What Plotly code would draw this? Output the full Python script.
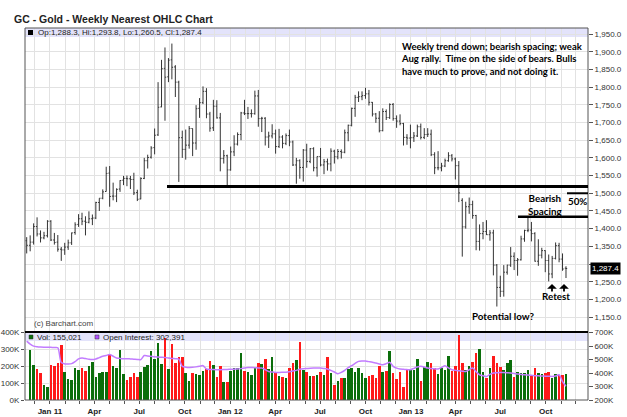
import plotly.graph_objects as go
import pandas as pd

# ---------------- data ----------------
dates = pd.date_range("2010-11-15", periods=157, freq="7D")

opens = [1366,1353,1362,1406,1385,1374,1380,1421,1368,1362,
         1342,1340,1348,1360,1389,1412,1428,1421,1418,1428,
         1430,1474,1486,1505,1557,1492,1492,1512,1537,1542,
         1541,1539,1502,1484,1542,1592,1602,1629,1665,1744,
         1853,1829,1877,1857,1814,1657,1624,1636,1683,1642,
         1740,1756,1788,1724,1685,1746,1713,1598,1606,1566,
         1617,1639,1666,1727,1725,1725,1725,1775,1711,1712,
         1659,1662,1668,1632,1659,1641,1663,1645,1580,1592,
         1573,1622,1590,1626,1572,1604,1580,1589,1583,1619,
         1603,1618,1616,1671,1692,1740,1771,1773,1776,1781,
         1757,1724,1712,1677,1731,1714,1751,1711,1704,1697,
         1658,1656,1657,1662,1688,1658,1666,1667,1609,1572,
         1572,1577,1592,1606,1597,1578,1480,1405,1462,1468,
         1437,1364,1386,1392,1383,1388,1297,1234,1223,1277,
         1297,1322,1310,1312,1371,1395,1396,1386,1308,1325,
         1338,1310,1272,1316,1352,1314,1288.3]

highs = [1376,1381,1415,1432,1395,1391,1424,1424,1388,1382,
         1348,1360,1369,1389,1418,1441,1445,1435,1449,1440,
         1476,1486,1511,1575,1577,1530,1514,1537,1549,1550,
         1549,1558,1510,1545,1600,1609,1633,1683,1814,1877,
         1912,1882,1923,1862,1818,1677,1680,1690,1683,1749,
         1769,1802,1797,1730,1764,1763,1727,1622,1609,1632,
         1664,1672,1730,1764,1744,1737,1790,1792,1716,1715,
         1674,1695,1680,1682,1664,1669,1680,1649,1600,1596,
         1625,1640,1628,1630,1604,1628,1597,1598,1627,1623,
         1625,1624,1680,1694,1742,1778,1788,1788,1798,1792,
         1758,1727,1732,1740,1737,1754,1755,1720,1723,1699,
         1667,1694,1673,1694,1697,1684,1684,1680,1616,1619,
         1586,1598,1616,1611,1601,1591,1486,1476,1488,1479,
         1439,1412,1419,1424,1396,1397,1300,1267,1297,1298,
         1348,1333,1317,1380,1397,1434,1419,1390,1370,1346,
         1339,1327,1323,1361,1360,1330,1293.8]

lows = [1330,1336,1355,1378,1361,1370,1375,1365,1355,1335,
        1309,1326,1340,1354,1383,1405,1410,1381,1415,1410,
        1427,1450,1483,1505,1462,1480,1475,1504,1523,1520,
        1512,1495,1478,1483,1540,1570,1598,1610,1662,1743,
        1705,1814,1822,1772,1532,1600,1595,1626,1605,1623,
        1713,1752,1712,1674,1676,1711,1562,1584,1523,1564,
        1605,1635,1650,1721,1710,1714,1722,1688,1673,1635,
        1628,1655,1612,1628,1627,1636,1633,1577,1527,1541,
        1533,1572,1585,1562,1547,1576,1554,1564,1562,1584,
        1596,1598,1613,1647,1689,1716,1758,1763,1767,1748,
        1717,1699,1672,1675,1707,1710,1705,1685,1692,1635,
        1637,1627,1645,1659,1652,1653,1659,1605,1554,1565,
        1562,1574,1589,1590,1539,1475,1321,1400,1442,1428,
        1339,1338,1370,1382,1366,1268,1180,1207,1208,1270,
        1292,1283,1267,1310,1363,1390,1364,1307,1295,1316,
        1277,1251,1260,1313,1305,1281,1260.5]

closes = [1353,1362,1406,1385,1374,1380,1421,1368,1361,1342,
          1340,1348,1360,1388,1411,1428,1421,1418,1428,1430,
          1474,1486,1504,1556,1491,1492,1511,1536,1542,1541,
          1539,1501,1483,1542,1592,1601,1628,1664,1743,1852,
          1828,1876,1856,1814,1657,1624,1636,1683,1642,1739,
          1756,1788,1724,1684,1746,1713,1598,1606,1566,1617,
          1639,1666,1727,1725,1725,1725,1775,1711,1712,1659,
          1662,1668,1632,1659,1641,1663,1645,1580,1592,1573,
          1622,1590,1626,1572,1604,1580,1589,1583,1619,1603,
          1618,1616,1671,1692,1740,1771,1773,1776,1781,1757,
          1724,1712,1677,1731,1714,1751,1711,1704,1697,1658,
          1656,1657,1662,1688,1658,1666,1667,1609,1572,1572,
          1577,1592,1606,1597,1578,1501,1405,1462,1468,1437,
          1364,1386,1392,1383,1388,1297,1234,1223,1277,1297,
          1322,1310,1312,1371,1395,1396,1386,1308,1325,1338,
          1310,1272,1316,1352,1314,1286,1287.4]

# weekly volume, thousands of contracts
volume_k = [None,
            300,208,182,158,87,75,208,204,218,327,
            168,125,119,188,178,188,172,202,224,135,
            162,164,168,275,204,192,297,152,121,137,
            158,137,166,196,210,293,244,337,214,370,
            184,331,222,257,257,158,113,158,152,149,
            172,184,232,208,137,204,105,105,172,188,
            188,277,172,166,149,188,222,214,242,182,
            257,164,143,139,133,192,222,238,
            347,178,168,143,143,149,164,149,253,162,
            89,113,129,129,184,188,168,192,162,129,
            143,149,129,204,168,172,291,162,125,164,
            75,178,178,178,242,113,198,228,218,188,
            152,188,178,261,174,202,386,218,178,202,
            228,277,303,164,129,192,263,218,198,178,
            218,238,139,168,158,158,178,149,192,158,
            152,158,164,129,152,149,149,155]

# open interest, thousands
oi_k = [637,615,600,595,593,592,592,591,590,588,
        478,468,467,470,485,505,512,508,502,500,
        505,515,525,531,537,525,512,509,507,507,
        505,503,501,500,530,527,524,521,519,517,
        515,512,509,506,503,450,444,442,443,446,
        450,455,430,427,426,425,425,426,427,428,
        429,430,433,437,442,441,440,438,437,425,
        412,408,405,405,406,407,410,415,420,428,
        432,434,436,437,437,437,434,430,420,408,
        395,405,420,440,455,472,487,490,490,485,
        480,474,468,462,470,480,450,437,430,428,
        426,425,435,445,450,445,437,434,432,430,
        442,455,438,425,420,417,414,412,425,437,
        410,387,380,375,390,400,403,405,404,402,
        400,397,393,390,387,385,383,381,380,378,
        377,376,375,378,387,337,302]

price_ticks = list(range(1150, 1951, 50))
price_labels = ["" if v == 1300 else "{:,.1f}".format(v) for v in price_ticks]
vol_ticks = [0, 100, 200, 300, 400]
vol_labels = ["0K", "100K", "200K", "300K", "400K"]
oi_ticks = [200, 300, 400, 500, 600, 700]
oi_labels = ["200K", "300K", "400K", "500K", "600K", "700K"]

support_level = 1519
spacing_level = 1434
half_level = 1500
last_close = closes[-1]

# ---------------- geometry helpers ----------------
W, H = 627, 417
L, R, T, B = 25, 588, 28, 400
SPLIT = 332
bar_px = 3.457
x0_px = 26.7
t0 = dates[0]

def px(x):
    return (x - L) / (R - L)

def py(y):
    return (B - y) / (B - T)

def date_at(xpix):
    return t0 + pd.Timedelta(days=7 * (xpix - x0_px) / bar_px)

x_range = [date_at(L), date_at(R)]

vol_colors = []
for i in range(len(closes)):
    if i == 0 or closes[i] >= closes[i - 1]:
        vol_colors.append("#0b6e0b")
    else:
        vol_colors.append("#ff1a1a")

fig = go.Figure()

fig.add_trace(go.Ohlc(
    x=dates, open=opens, high=highs, low=lows, close=closes,
    increasing=dict(line=dict(color="#333333", width=1)),
    decreasing=dict(line=dict(color="#333333", width=1)),
    tickwidth=0.35, yaxis="y", xaxis="x", showlegend=False, hoverinfo="skip"))

fig.add_trace(go.Bar(
    x=dates, y=volume_k, marker=dict(color=vol_colors, line=dict(width=0)),
    width=0.75 * 7 * 86400000, yaxis="y2", xaxis="x", showlegend=False))

fig.add_trace(go.Scatter(
    x=dates, y=oi_k, mode="lines", line=dict(color="#c27cff", width=1.5, shape="spline", smoothing=0.8),
    yaxis="y3", xaxis="x", showlegend=False))

# month grid, quarterly labels
months = pd.date_range("2010-12-01", "2013-12-01", freq="MS")
tickvals, ticktext = [], []
for m in months:
    tickvals.append(m)
    if m.month == 1:
        ticktext.append("Jan %02d" % (m.year % 100))
    elif m.month in (4, 7, 10):
        ticktext.append(m.strftime("%b"))
    else:
        ticktext.append("")

grid = "#e2e2e2"
axfont = dict(family="Liberation Sans, Arial, sans-serif", size=8, color="#333333")
dom_split = py(SPLIT)

fig.update_layout(
    width=W, height=H,
    margin=dict(l=L, r=W - R, t=T, b=H - B, autoexpand=False),
    paper_bgcolor="white", plot_bgcolor="white",
    bargap=0,
    xaxis=dict(type="date", domain=[0, 1], anchor="y2", range=x_range, automargin=False,
               tickvals=tickvals, ticktext=ticktext, showgrid=True, gridcolor=grid, gridwidth=1,
               ticks="outside", ticklen=3, tickcolor="#555",
               tickfont=dict(family="Liberation Sans, Arial, sans-serif", size=8, color="#222", weight="bold"),
               rangeslider=dict(visible=False), zeroline=False, showline=False, fixedrange=True),
    yaxis=dict(domain=[dom_split, 1], anchor="x", side="right", range=[1108, 1967], automargin=False,
               tickvals=price_ticks, ticktext=price_labels, showgrid=True, gridcolor=grid,
               ticks="outside", ticklen=4, tickcolor="#555", tickfont=axfont, zeroline=False),
    yaxis2=dict(domain=[0, dom_split], anchor="x", side="left", range=[0, 404], automargin=False,
                tickvals=vol_ticks, ticktext=vol_labels, showgrid=True, gridcolor=grid,
                ticks="outside", ticklen=3, tickcolor="#555", tickfont=axfont, zeroline=False),
    yaxis3=dict(overlaying="y2", anchor="x", side="right", range=[200, 705], automargin=False,
                tickvals=oi_ticks, ticktext=oi_labels, showgrid=False,
                ticks="outside", ticklen=4, tickcolor="#555", tickfont=axfont, zeroline=False),
)

shapes = []
# legend bands
shapes.append(dict(type="rect", xref="paper", yref="paper", x0=0, x1=1, y0=py(37), y1=py(28),
                   fillcolor="#e3e3fb", line=dict(width=0), layer="below"))
shapes.append(dict(type="rect", xref="paper", yref="paper", x0=0, x1=1, y0=py(341), y1=py(SPLIT),
                   fillcolor="#e3e3fb", line=dict(width=0), layer="below"))
# frames
shapes.append(dict(type="rect", xref="paper", yref="paper", x0=0, x1=1, y0=dom_split, y1=1,
                   line=dict(color="#555", width=1)))
shapes.append(dict(type="rect", xref="paper", yref="paper", x0=0, x1=1, y0=0, y1=dom_split,
                   line=dict(color="#555", width=1)))
shapes.append(dict(type="line", xref="paper", yref="paper", x0=0, x1=1, y0=dom_split, y1=dom_split,
                   line=dict(color="black", width=2)))
# legend squares
shapes.append(dict(type="rect", xref="paper", yref="paper", x0=px(28), x1=px(33), y0=py(35), y1=py(30),
                   fillcolor="black", line=dict(width=0)))
shapes.append(dict(type="rect", xref="paper", yref="paper", x0=px(29), x1=px(33), y0=py(339), y1=py(335),
                   fillcolor="#0b6e0b", line=dict(color="#333", width=0.5)))
shapes.append(dict(type="rect", xref="paper", yref="paper", x0=px(95), x1=px(99), y0=py(339), y1=py(335),
                   fillcolor="#b050ff", line=dict(color="#333", width=0.5)))
# drawn lines
shapes.append(dict(type="line", xref="x", yref="y", x0=date_at(167), x1=x_range[1],
                   y0=support_level, y1=support_level, line=dict(color="black", width=3)))
shapes.append(dict(type="line", xref="x", yref="y", x0=date_at(518), x1=x_range[1],
                   y0=spacing_level, y1=spacing_level, line=dict(color="black", width=2.5)))
shapes.append(dict(type="line", xref="x", yref="y", x0=date_at(567), x1=x_range[1],
                   y0=half_level, y1=half_level, line=dict(color="black", width=2)))
fig.update_layout(shapes=shapes)

small = dict(family="Liberation Sans, Arial, sans-serif", size=8, color="#222")
note = dict(family="Lato, sans-serif", size=9.8, color="black", weight="bold")
block = dict(family="Lato, sans-serif", size=9.5, color="black", weight="bold")
ann = []
ann.append(dict(text="<b>GC - Gold - Weekly Nearest OHLC Chart</b>", xref="paper", yref="paper",
                x=px(12), y=py(19), xanchor="left", yanchor="middle", showarrow=False,
                font=dict(family="Liberation Sans, Arial, sans-serif", size=10.5, color="#222")))
ann.append(dict(text="Op:1,288.3, Hi:1,293.8, Lo:1,260.5, Cl:1,287.4", xref="paper", yref="paper",
                x=px(36), y=py(32.5), xanchor="left", yanchor="middle", showarrow=False, font=small))
ann.append(dict(text="Vol: 155,021", xref="paper", yref="paper",
                x=px(35), y=py(337), xanchor="left", yanchor="middle", showarrow=False, font=small))
ann.append(dict(text="Open Interest: 302,391", xref="paper", yref="paper",
                x=px(101), y=py(337), xanchor="left", yanchor="middle", showarrow=False, font=small))
ann.append(dict(text="(c) Barchart.com", xref="paper", yref="paper",
                x=px(32), y=py(323), xanchor="left", yanchor="middle", showarrow=False,
                font=dict(family="Liberation Sans, Arial, sans-serif", size=8, color="#444")))
ann.append(dict(text="Weekly trend down; bearish spacing; weak<br>Aug rally.  Time on the side of bears. Bulls<br>have much to prove, and not doing it.",
                xref="paper", yref="paper", x=px(399), y=py(39), xanchor="left", yanchor="top",
                align="left", showarrow=False, font=block))
ann.append(dict(text="Bearish<br>Spacing", xref="paper", yref="paper", x=px(545), y=py(204),
                xanchor="center", yanchor="middle", showarrow=False, font=note))
ann.append(dict(text="50%", xref="paper", yref="paper", x=px(577), y=py(201),
                xanchor="center", yanchor="middle", showarrow=False, font=note))
ann.append(dict(text="Retest", xref="paper", yref="paper", x=px(556), y=py(296),
                xanchor="center", yanchor="middle", showarrow=False, font=note))
ann.append(dict(text="Potential low?", xref="paper", yref="paper", x=px(503), y=py(316),
                xanchor="center", yanchor="middle", showarrow=False, font=note))
for ax_px in (552, 564):
    ann.append(dict(text="", xref="paper", yref="paper", x=px(ax_px), y=py(284),
                    ax=0, ay=9, showarrow=True, arrowhead=1, arrowsize=0.9, arrowwidth=1.8,
                    arrowcolor="black"))
ann.append(dict(text="1,287.4", xref="paper", yref="y", x=1.003, y=last_close,
                xanchor="left", yanchor="middle", showarrow=False, bgcolor="black",
                borderpad=1, font=dict(family="Liberation Sans, Arial, sans-serif", size=8, color="white")))
fig.update_layout(annotations=ann)

fig.write_html("out.html")
